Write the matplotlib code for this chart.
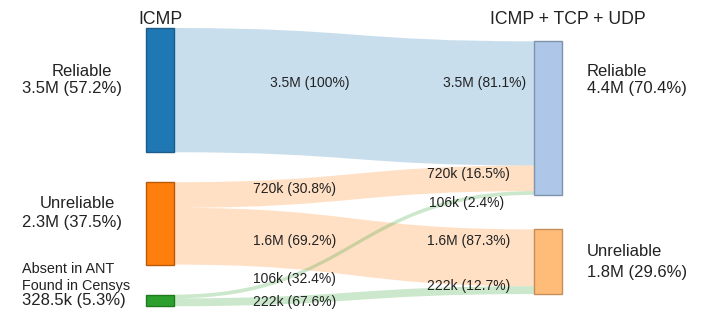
import matplotlib
matplotlib.use("Agg")
import matplotlib.pyplot as plt
from matplotlib.path import Path
from matplotlib.patches import PathPatch, Rectangle

plt.rcParams['font.family'] = ['Liberation Sans', 'DejaVu Sans']

# Column titles
left_title = "ICMP"
right_title = "ICMP + TCP + UDP"

# Source nodes (ICMP) and target nodes (ICMP + TCP + UDP)
left_nodes = ["Reliable", "Unreliable", "Absent in ANT\nFound in Censys"]
left_totals = ["3.5M (57.2%)", "2.3M (37.5%)", "328.5k (5.3%)"]
right_nodes = ["Reliable", "Unreliable"]
right_totals = ["4.4M (70.4%)", "1.8M (29.6%)"]

# Flows: source index, target index, value
flow_src = [0, 1, 1, 2, 2]
flow_dst = [0, 0, 1, 0, 1]
flow_val = [3.5e6, 720e3, 1.6e6, 106e3, 222e3]
flow_txt = ["3.5M", "720k", "1.6M", "106k", "222k"]
flow_pct_src = ["100%", "30.8%", "69.2%", "32.4%", "67.6%"]
flow_pct_dst = ["81.1%", "16.5%", "87.3%", "2.4%", "12.7%"]

left_colors = ["#1f77b4", "#ff7f0e", "#2ca02c"]
left_edges = ["#1a5c8a", "#b85a0a", "#207a20"]
right_colors = ["#aec7e8", "#ffbb78"]
right_edges = ["#7f93ad", "#c48d5a"]

fig = plt.figure(figsize=(7.18, 3.23), dpi=100)
ax = fig.add_axes([0, 0, 1, 1])
ax.set_xlim(0, 718)
ax.set_ylim(323, 0)
ax.axis("off")

scale = 35.5e-6          # units per host
node_w = 28
xl, xr = 146, 534
left_top, left_gap = 28, 30
right_top, right_gap = 41.3, 34.5

left_sum = [sum(v for s, v in zip(flow_src, flow_val) if s == i) for i in range(len(left_nodes))]
right_sum = [sum(v for d, v in zip(flow_dst, flow_val) if d == i) for i in range(len(right_nodes))]

left_y = []
y = left_top
for v in left_sum:
    left_y.append(y)
    y += v * scale + left_gap
right_y = []
y = right_top
for v in right_sum:
    right_y.append(y)
    y += v * scale + right_gap

# Flow bands
src_off = list(left_y)
dst_off = list(right_y)
x0, x1 = xl + node_w, xr
xm = (x0 + x1) / 2
band_pos = []
for s, d, v in zip(flow_src, flow_dst, flow_val):
    h = v * scale
    a0, a1 = src_off[s], src_off[s] + h
    b0, b1 = dst_off[d], dst_off[d] + h
    src_off[s] += h
    dst_off[d] += h
    verts = [(x0, a0), (xm, a0), (xm, b0), (x1, b0),
             (x1, b1), (xm, b1), (xm, a1), (x0, a1), (x0, a0)]
    codes = [Path.MOVETO, Path.CURVE4, Path.CURVE4, Path.CURVE4,
             Path.LINETO, Path.CURVE4, Path.CURVE4, Path.CURVE4, Path.CLOSEPOLY]
    ax.add_patch(PathPatch(Path(verts, codes), facecolor=left_colors[s],
                           edgecolor="none", alpha=0.24, zorder=1))
    band_pos.append(((a0 + a1) / 2, (b0 + b1) / 2))

# Nodes
for i, v in enumerate(left_sum):
    ax.add_patch(Rectangle((xl, left_y[i]), node_w, v * scale, facecolor=left_colors[i],
                           edgecolor=left_edges[i], linewidth=1, zorder=3))
for i, v in enumerate(right_sum):
    ax.add_patch(Rectangle((xr, right_y[i]), node_w, v * scale, facecolor=right_colors[i],
                           edgecolor=right_edges[i], linewidth=1, zorder=3))

tc = "#222222"
ax.text(xl + node_w / 2, 19, left_title, ha="center", va="center", fontsize=12.7, color=tc)
ax.text(568, 20, right_title, ha="center", va="center", fontsize=12.7, color=tc)

# Node labels
ax.text(82, 71, left_nodes[0], ha="center", va="center", fontsize=12, color=tc)
ax.text(22, 89, left_totals[0], ha="left", va="center", fontsize=12, color=tc)
ax.text(77, 203, left_nodes[1], ha="center", va="center", fontsize=12, color=tc)
ax.text(22, 223, left_totals[1], ha="left", va="center", fontsize=12, color=tc)
absent_lines = left_nodes[2].split("\n")
ax.text(22, 269, absent_lines[0], ha="left", va="center", fontsize=10.4, color=tc)
ax.text(22, 286, absent_lines[1], ha="left", va="center", fontsize=10.4, color=tc)
ax.text(22, 300, left_totals[2], ha="left", va="center", fontsize=12, color=tc)

for i, (name, tot) in enumerate(zip(right_nodes, right_totals)):
    ymid = [71, 251][i]
    ax.text(587, ymid, name, ha="left", va="center", fontsize=12, color=tc)
    ax.text(587, ymid + 18 + 4 * i, tot, ha="left", va="center", fontsize=12, color=tc)

# Flow labels
src_label_y = [83, 189, 241, 279, 302]
dst_label_y = [83, 174, 241, 203, 286]
for k in range(len(flow_val)):
    ax.text(270 if k == 0 else 253, src_label_y[k], f"{flow_txt[k]} ({flow_pct_src[k]})",
            ha="left", va="center", fontsize=10, color=tc, zorder=4)
    ax.text(526 if k == 0 else (504 if k == 3 else 510), dst_label_y[k],
            f"{flow_txt[k]} ({flow_pct_dst[k]})",
            ha="right", va="center", fontsize=10, color=tc, zorder=4)

fig.savefig("out.png", dpi=100)
